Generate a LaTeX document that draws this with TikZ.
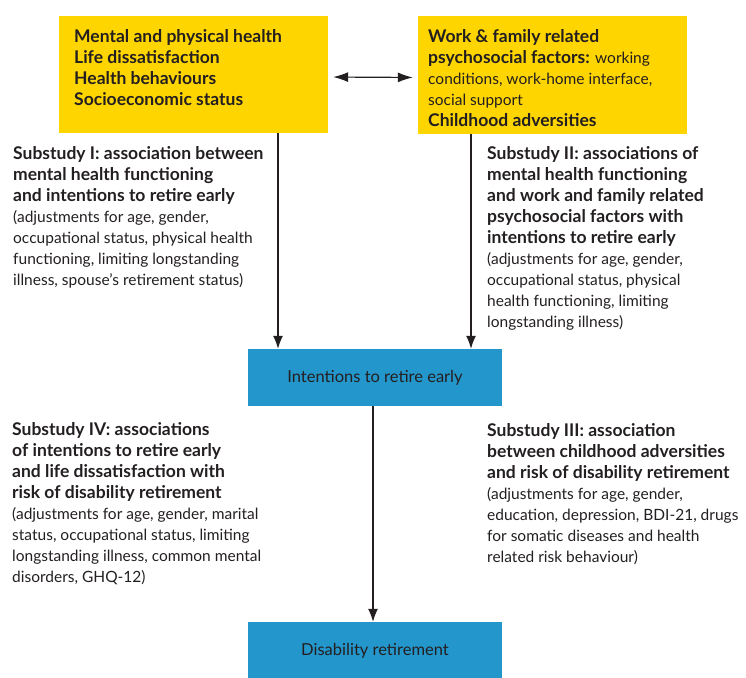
\documentclass[tikz,border=0pt]{standalone}
\usepackage{fontspec}
\setmainfont{Lato}
\usetikzlibrary{arrows.meta, positioning}
\definecolor{factorfill}{HTML}{FFD500}
\definecolor{outcomefill}{HTML}{2396CB}
\definecolor{textdark}{HTML}{231F20}
% bold heads are set a little larger than the plain notes
\newcommand{\headfont}{\fontsize{17.5}{21}\selectfont\bfseries}
\newcommand{\head}[1]{{\headfont #1}}

\begin{document}
\begin{tikzpicture}[
        x=1pt, y=-1pt,
        factorbox/.style={
            fill=factorfill,
            minimum width=269pt,
            minimum height=117pt,
            inner sep=0pt
        },
        outcomebox/.style={
            fill=outcomefill,
            minimum width=254pt,
            minimum height=57pt,
            inner sep=0pt,
            text=textdark,
            font=\fontsize{16.5}{21}\selectfont
        },
        notetext/.style={
            anchor=north west,
            align=left,
            inner sep=0pt,
            text=textdark,
            font=\fontsize{15.5}{21}\selectfont
        },
        link/.style={-{Latex[length=13pt, width=10pt]}, line width=1.2pt, textdark}
    ]
        \useasboundingbox (0,0) rectangle (746,677);

        % exposure boxes
        \node[factorbox] (health) at (193.5,74.5) {};
        \node[factorbox] (work) at (552.5,75) {};
        \node[notetext, font=\headfont] (healthtext) at (74,28.8)
            {Mental and physical health\\
             Life dissatisfaction\\
             Health behaviours\\
             Socioeconomic status};
        \node[notetext] (worktext) at (428,29.4)
            {\head{Work \& family related}\\
             \head{psychosocial factors:} working\\
             conditions, work-home interface,\\
             social support\\
             \head{Childhood adversities}};

        % outcome boxes
        \node[outcomebox] (intentions) at (375,377.5) {Intentions to retire early};
        \node[outcomebox] (disability) at (375,650.5) {Disability retirement};

        % substudy notes
        \node[notetext] (studyone) at (13,146.4)
            {\head{Substudy I: association between}\\
             \head{mental health functioning}\\
             \head{and intentions to retire early}\\
             (adjustments for age, gender,\\
             occupational status, physical health\\
             functioning, limiting longstanding\\
             illness, spouse’s retirement status)};
        \node[notetext] (studytwo) at (487,146.4)
            {\head{Substudy II: associations of}\\
             \head{mental health functioning}\\
             \head{and work and family related}\\
             \head{psychosocial factors with}\\
             \head{intentions to retire early}\\
             (adjustments for age, gender,\\
             occupational status, physical\\
             health functioning, limiting\\
             longstanding illness)};
        \node[notetext] (studyfour) at (12,422)
            {\head{Substudy IV: associations}\\
             \head{of intentions to retire early}\\
             \head{and life dissatisfaction with}\\
             \head{risk of disability retirement}\\
             (adjustments for age, gender, marital\\
             status, occupational status, limiting\\
             longstanding illness, common mental\\
             disorders, GHQ-12)};
        \node[notetext] (studythree) at (487,422.8)
            {\head{Substudy III: association}\\
             \head{between childhood adversities}\\
             \head{and risk of disability retirement}\\
             (adjustments for age, gender,\\
             education, depression, BDI-21, drugs\\
             for somatic diseases and health\\
             related risk behaviour)};

        % connectors
        \draw[link, {Latex[length=15pt, width=10pt]}-{Latex[length=15pt, width=10pt]}, shorten <=5pt, shorten >=5pt]
            ([yshift=-2.5pt]health.east) -- ([yshift=-2.5pt]work.west);
        \draw[link] ([xshift=84.5pt]health.south) -- ([xshift=84.5pt]health.south |- intentions.north);
        \draw[link] ([xshift=-81.5pt]work.south) -- ([xshift=-81.5pt]work.south |- intentions.north);
        \draw[link] ([xshift=-2pt]intentions.south) -- ([xshift=-2pt]intentions.south |- disability.north);
    \end{tikzpicture}
\end{document}
